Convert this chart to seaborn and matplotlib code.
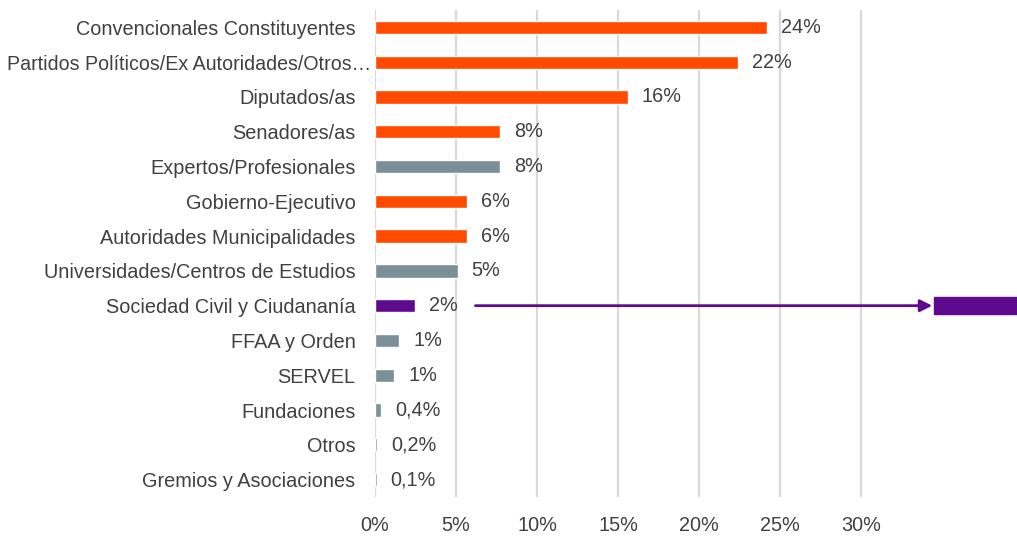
import matplotlib.pyplot as plt
import matplotlib.transforms as mtransforms
import seaborn as sns
from matplotlib.patches import Rectangle

categories = [
    "Convencionales Constituyentes",
    "Partidos Políticos/Ex Autoridades/Otros…",
    "Diputados/as",
    "Senadores/as",
    "Expertos/Profesionales",
    "Gobierno-Ejecutivo",
    "Autoridades Municipalidades",
    "Universidades/Centros de Estudios",
    "Sociedad Civil y Ciudananía",
    "FFAA y Orden",
    "SERVEL",
    "Fundaciones",
    "Otros",
    "Gremios y Asociaciones",
]
values = [24.2, 22.4, 15.6, 7.7, 7.7, 5.7, 5.7, 5.1, 2.5, 1.5, 1.2, 0.4, 0.15, 0.1]
value_labels = ["24%", "22%", "16%", "8%", "8%", "6%", "6%", "5%", "2%",
                "1%", "1%", "0,4%", "0,2%", "0,1%"]
groups = ["pol", "pol", "pol", "pol", "other", "pol", "pol", "other", "civil",
          "other", "other", "other", "other", "other"]
ticks = [0, 5, 10, 15, 20, 25, 30]

ORANGE = "#FF4A00"
GREY = "#7B8F99"
PURPLE = "#5E0A8E"
TEXT = "#404040"
group_colors = {"pol": ORANGE, "other": GREY, "civil": PURPLE}

sns.set_style("white")
plt.rcParams["font.family"] = ["Liberation Sans", "DejaVu Sans"]
FS = 14.3

fig = plt.figure(figsize=(10.17, 5.37), dpi=100)
ax = fig.add_axes([375 / 1017, 40 / 537, 1 - 375 / 1017, 487 / 537])

palette = {c: group_colors[g] for c, g in zip(categories, groups)}
sns.barplot(x=values, y=categories, hue=categories, palette=palette,
            legend=False, width=0.38, ax=ax, saturation=1)

ax.set_xlim(0, 39.63)
ax.set_ylim(13.5, -0.5)
ax.set_xticks(ticks)
ax.set_xticklabels([f"{t}%" for t in ticks])
for t in ticks:
    ax.axvline(t, color="#D9D9D9", lw=1.6, zorder=0)
for s in ax.spines.values():
    s.set_visible(False)
ax.tick_params(axis="both", length=0, labelsize=FS, colors=TEXT)
ax.tick_params(axis="y", pad=14)
ax.tick_params(axis="x", pad=14)
ax.set_xlabel("")
ax.set_ylabel("")

# the long label runs a bit past the others, up to the axis line
shift = mtransforms.ScaledTranslation(0.16, 0, fig.dpi_scale_trans)
for lab in ax.get_yticklabels():
    if len(lab.get_text()) > 35:
        lab.set_fontsize(14.1)
        lab.set_transform(lab.get_transform() + shift)

for i, (v, lab) in enumerate(zip(values, value_labels)):
    ax.annotate(lab, (v, i), xytext=(10, 0), textcoords="offset points",
                va="center", ha="left", fontsize=FS, color=TEXT)

# arrow pointing to the highlight box for Sociedad Civil
idx = categories.index("Sociedad Civil y Ciudananía")
ax.annotate("", xy=(34.4, idx), xytext=(6.2, idx),
            arrowprops=dict(arrowstyle="-|>", color=PURPLE, lw=2,
                            mutation_scale=18, shrinkA=0, shrinkB=0))
ax.add_patch(Rectangle((34.5, idx - 0.25), 5.2, 0.5, color=PURPLE, clip_on=False))

plt.savefig("out.png", dpi=100)
plt.close()
